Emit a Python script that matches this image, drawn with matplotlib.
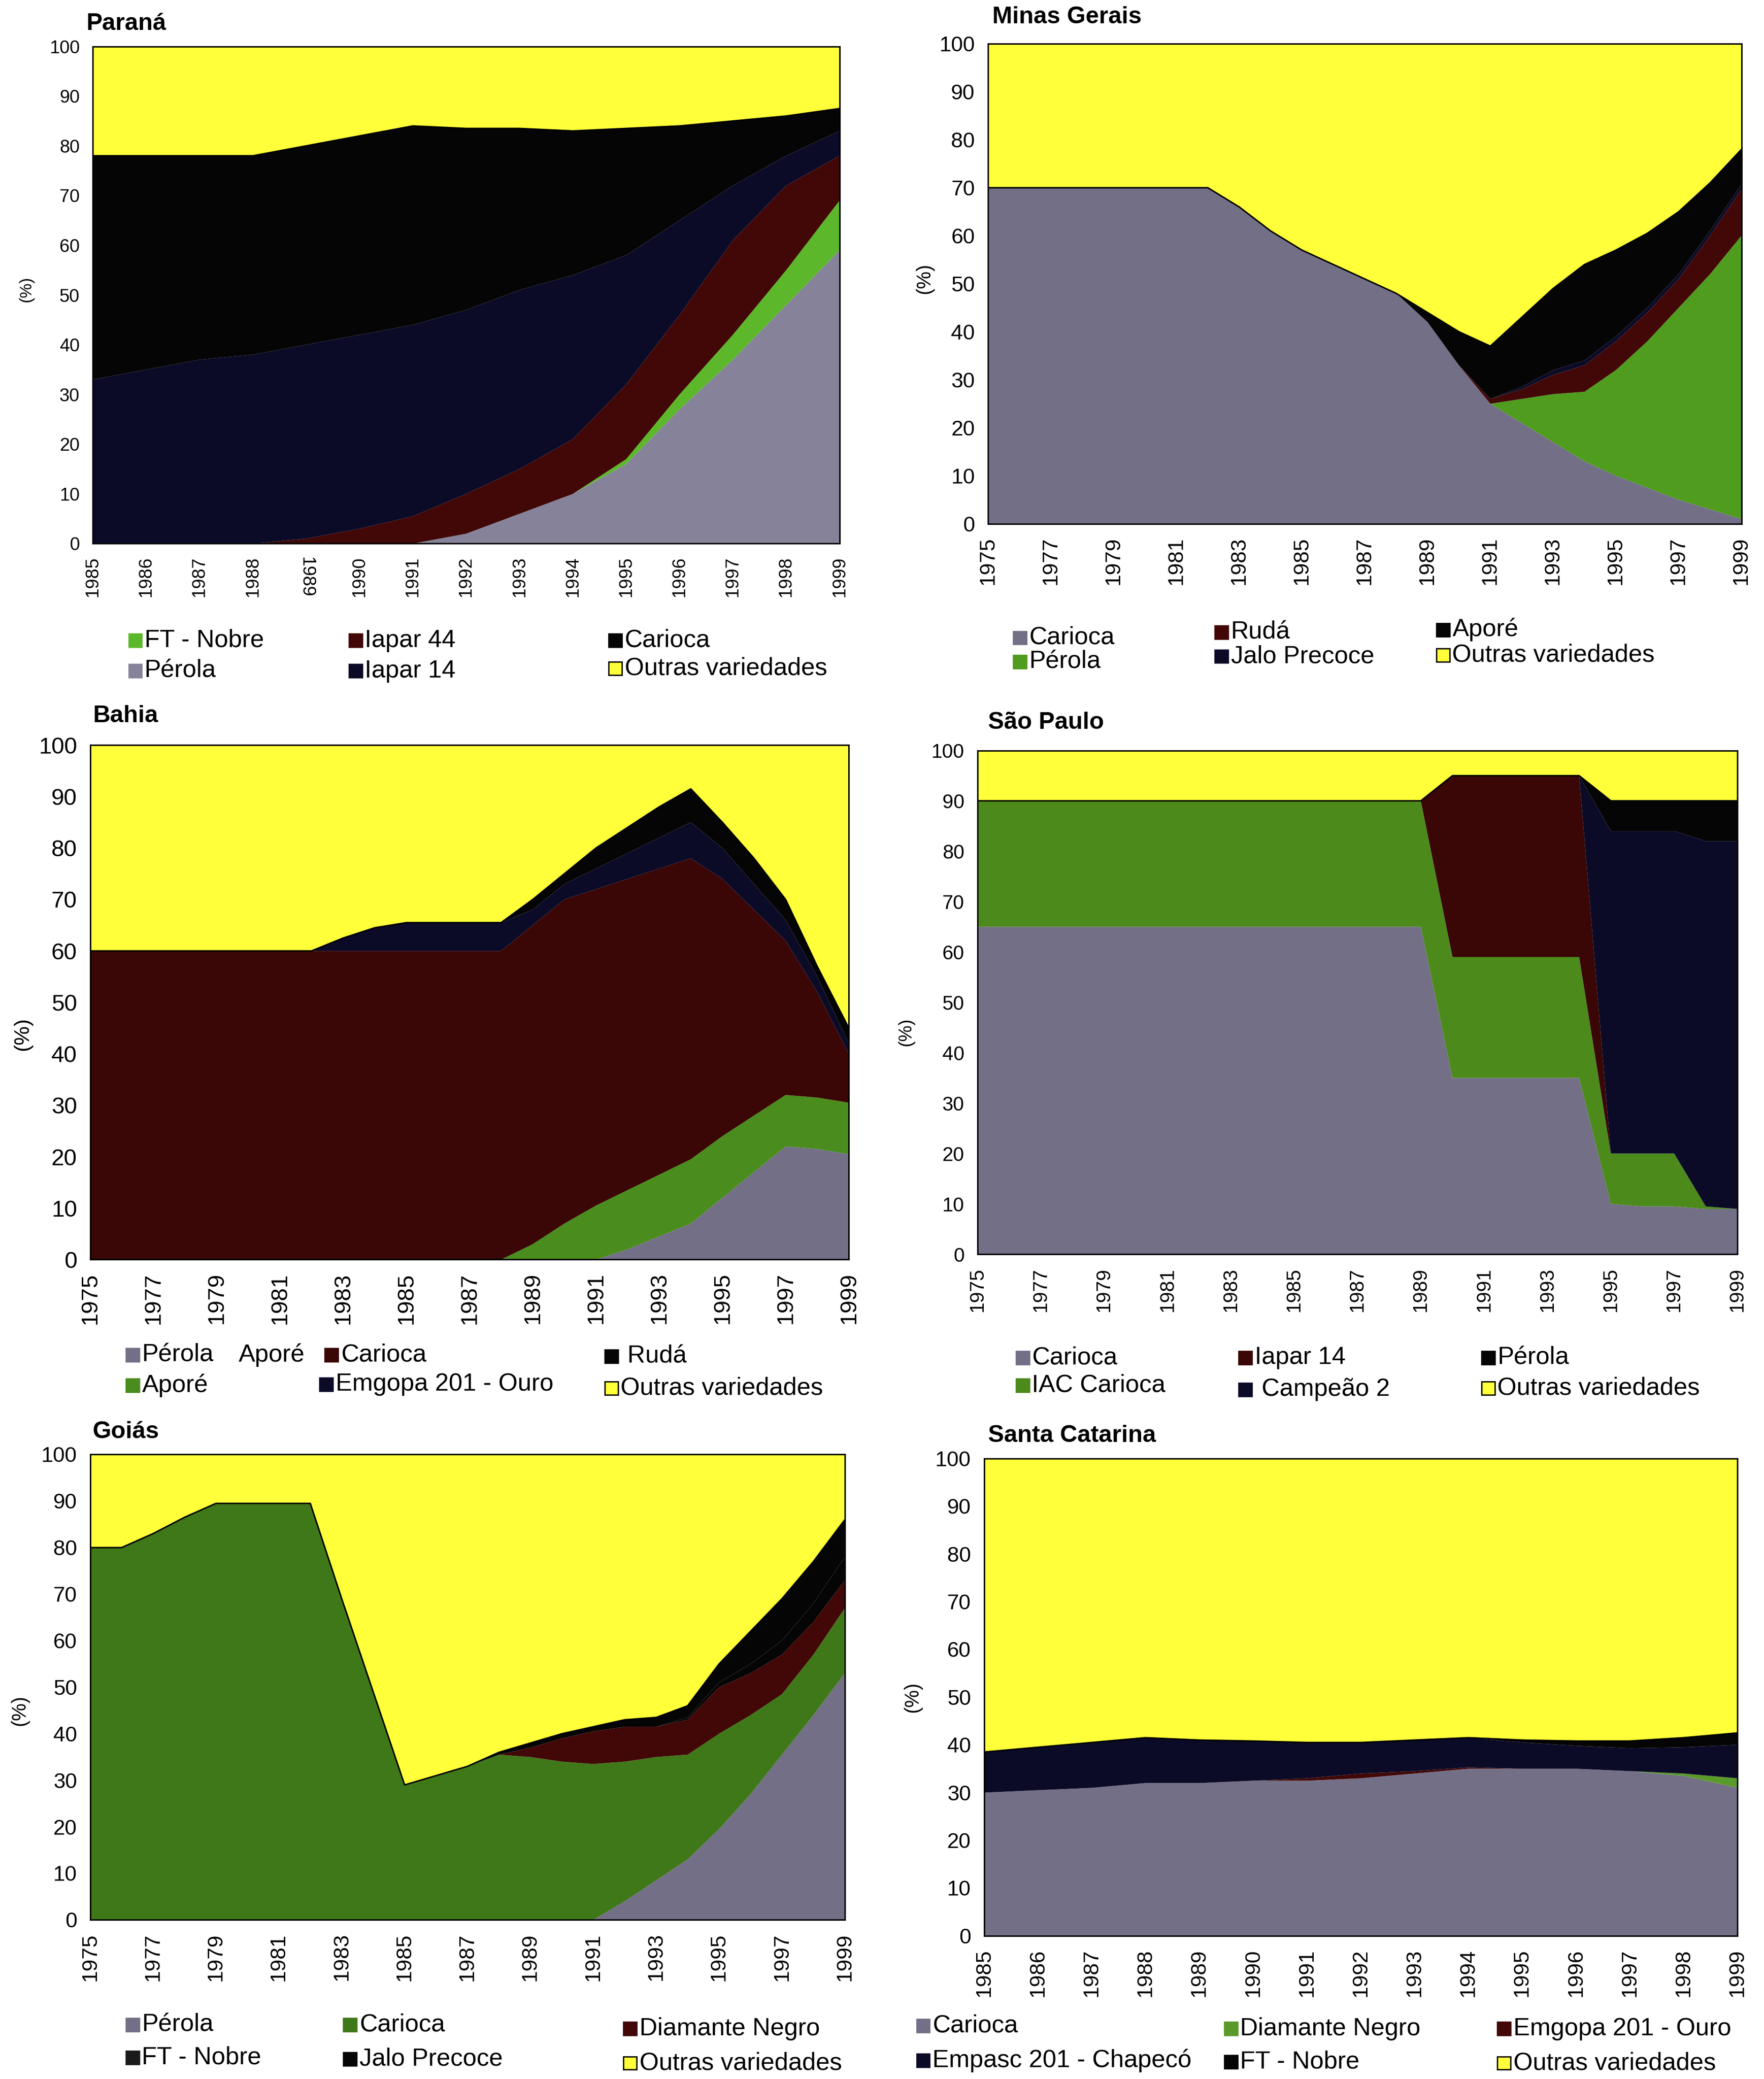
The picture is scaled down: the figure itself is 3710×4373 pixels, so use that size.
"""Six stacked-area panels: share of bean cultivars by Brazilian state, 1975-1999."""
import matplotlib
matplotlib.use("Agg")
import matplotlib.pyplot as plt
from matplotlib.patches import Rectangle
import numpy as np

plt.rcParams["font.family"] = ["Liberation Sans", "DejaVu Sans"]

# ── data ────────────────────────────────────────────────────────────────
years_85 = list(range(1985, 2000))
years_75 = list(range(1975, 2000))

# Paraná (1985-1999)
pr_perola = [0, 0, 0, 0, 0, 0, 0, 2, 6, 10, 16, 27, 37, 48, 59]
pr_ftnobre = [0, 0, 0, 0, 0, 0, 0, 0, 0, 0, 1, 3, 5, 7, 10]
pr_iapar44 = [0, 0, 0, 0, 1, 3, 5.5, 8, 9, 11, 15, 16, 19, 17, 9]
pr_iapar14 = [33, 35, 37, 38, 39, 39, 38.5, 37, 36, 33, 26, 19, 11, 6, 5]
pr_carioca = [45, 43, 41, 40, 40, 40, 40, 36.5, 32.5, 29, 25.5, 19, 13, 8, 4.5]

# Minas Gerais (1975-1999)
mg_carioca = [70, 70, 70, 70, 70, 70, 70, 70, 66, 61, 57, 54, 51, 48, 42, 33,
              25, 21, 17, 13, 10, 7.5, 5, 3, 1]
mg_perola = [0] * 16 + [0, 5, 10, 14.5, 22, 30.5, 40, 49, 59]
mg_ruda = [0] * 16 + [1, 2, 4, 5.5, 6, 6, 6, 8, 9.7]
mg_jalo = [0] * 17 + [0.5, 1, 1, 1, 1, 1, 1, 1]
mg_apore = [0] * 13 + [0, 2, 7, 11, 14.5, 17, 20, 18, 15.5, 13, 10, 7.3]

# Bahia (1975-1999)
ba_perola = [0] * 17 + [2, 4.5, 7, 12, 17, 22, 21.5, 20.5]
ba_apore = [0] * 14 + [3, 7, 10.5, 11.5, 12, 12.5, 12, 11, 10, 10, 10]
ba_carioca = [60] * 14 + [62, 63, 61.5, 60.5, 59.5, 58.5, 50, 40, 30, 20.5, 9.5]
ba_emgopa = [0] * 8 + [2.5, 4.5, 5.5, 5.5, 5.5, 5.5, 3, 3, 4, 5, 6, 7, 6, 5, 4, 3, 2]
ba_ruda = [0] * 14 + [2, 2, 4, 5, 6, 6.5, 5, 5, 4, 2, 3]

# São Paulo (1975-1999)
sp_carioca = [65] * 15 + [35] * 5 + [10, 9.5, 9.5, 9, 9]
sp_iac = [25] * 15 + [24] * 5 + [10, 10.5, 10.5, 0.5, 0]
sp_iapar14 = [0] * 15 + [36] * 5 + [0] * 5
sp_campeao = [0] * 20 + [64, 64, 64, 72.5, 73]
sp_perola = [0] * 20 + [6, 6, 6, 8, 8]

# Goiás (1975-1999)
go_perola = [0] * 17 + [4, 8.5, 13, 19.5, 27, 35.5, 44, 53]
go_carioca = [80, 80, 83, 86.5, 89.5, 89.5, 89.5, 89.5, 69, 49, 29, 31, 33,
              35.5, 35, 34, 33.5, 30, 26.5, 22.5, 20.5, 17, 13, 13, 14]
go_diamante = [0] * 14 + [2, 5, 7, 7.5, 6.5, 7.5, 10, 9, 8.5, 7, 6]
go_ftnobre = [0] * 19 + [0.5, 1, 2, 3, 4, 5]
go_jalo = [0] * 13 + [0.5, 1, 1, 1, 1.5, 2, 2.5, 4, 7, 9, 9, 8]

# Santa Catarina (1985-1999)
sc_carioca = [30, 30.5, 31, 32, 32, 32.5, 32.5, 33, 34, 35, 35, 35, 34.5, 33.5, 31]
sc_diamante = [0] * 13 + [0.5, 2]
sc_emgopa = [0, 0, 0, 0, 0, 0, 0.5, 1, 0.5, 0.3, 0, 0, 0, 0, 0]
sc_empasc = [8.5, 9, 9.5, 9.5, 9, 8.3, 7.5, 6.5, 6.5, 6.2, 5.5, 4.8, 4.8, 5.5, 7]
sc_ftnobre = [0] * 10 + [0.5, 1, 1.5, 2, 2.5]

# ── colours ─────────────────────────────────────────────────────────────
GRAY = "#736f86"
RED = "#420707"
NAVY = "#0b0b28"
BLACK = "#050505"
YELLOW = "#ffff3a"

W, H = 3710, 4373
fig = plt.figure(figsize=(W / 250, H / 250), dpi=250)


def fx(x):
    return x / 1330


def fy(y):
    return 1 - y / 1568


def panel(box, title, title_xy, ylab_xy, years, series, colors, step, tick_fs,
          flip=None):
    l, t, r, b = box
    ax = fig.add_axes([fx(l), fy(b), fx(r) - fx(l), fy(t) - fy(b)])
    vals = [np.array(s, dtype=float) for s in series]
    rest = 100 - np.sum(vals, axis=0)
    ax.stackplot(years, *vals, rest, colors=colors + [YELLOW], linewidth=0)
    ax.plot(years, 100 - rest, color="black", lw=0.9)
    ax.set_xlim(years[0], years[-1])
    ax.set_ylim(0, 100)
    ax.set_yticks(range(0, 101, 10))
    ax.set_xticks(years[::step])
    ax.set_xticklabels([str(y) for y in years[::step]], rotation=90)
    ax.tick_params(length=0, labelsize=tick_fs, pad=8)
    if flip is not None:
        for lab in ax.get_xticklabels():
            if lab.get_text() == str(flip):
                lab.set_rotation(270)
    for s in ax.spines.values():
        s.set_linewidth(0.9)
    fig.text(fx(title_xy[0]), fy(title_xy[1]), title, fontsize=14.5,
             fontweight="bold", ha="left", va="center")
    fig.text(fx(ylab_xy[0]), fy(ylab_xy[1]), "(%)", fontsize=tick_fs - 1,
             rotation=90, ha="center", va="center")
    return ax


def legend(entries, fs=15):
    sq_w, sq_h = 10 / 1330, 10 / 1568
    for x, y, col, label in entries:
        if col is not None:
            fig.patches.append(Rectangle((fx(x) - sq_w / 2, fy(y) - sq_h / 2), sq_w, sq_h,
                                         transform=fig.transFigure, facecolor=col,
                                         edgecolor="black" if col == YELLOW else col,
                                         lw=0.8))
            fig.text(fx(x + 7), fy(y), label, fontsize=fs, ha="left", va="center")
        else:
            fig.text(fx(x), fy(y), label, fontsize=fs, ha="left", va="center")


# Paraná
panel((70, 35, 633, 410), "Paraná", (65, 18), (20, 218), years_85,
      [pr_perola, pr_ftnobre, pr_iapar44, pr_iapar14, pr_carioca],
      ["#85829a", "#5cb82a", RED, NAVY, BLACK], 1, 11, flip=1989)
legend([(102, 483, "#5cb82a", "FT - Nobre"), (102, 506, "#85829a", "Pérola"),
        (268, 483, RED, "Iapar 44"), (268, 506, NAVY, "Iapar 14"),
        (464, 483, BLACK, "Carioca"), (464, 504, YELLOW, "Outras variedades")])

# Minas Gerais
panel((745, 33, 1313, 395), "Minas Gerais", (748, 13), (697, 210), years_75,
      [mg_carioca, mg_perola, mg_ruda, mg_jalo, mg_apore],
      [GRAY, "#4f9c1f", RED, NAVY, BLACK], 2, 13)
legend([(769, 481, GRAY, "Carioca"), (769, 499, "#4f9c1f", "Pérola"),
        (921, 477, RED, "Rudá"), (921, 495, NAVY, "Jalo Precoce"),
        (1088, 475, BLACK, "Aporé"), (1088, 494, YELLOW, "Outras variedades")])

# Bahia
panel((68, 562, 640, 950), "Bahia", (70, 540), (17, 780), years_75,
      [ba_perola, ba_apore, ba_carioca, ba_emgopa, ba_ruda],
      [GRAY, "#4a8c1e", "#3a0606", NAVY, BLACK], 2, 14)
legend([(100, 1022, GRAY, "Pérola"), (180, 1022, None, "Aporé"),
        (250, 1022, "#3a0606", "Carioca"), (461, 1023, BLACK, " Rudá"),
        (100, 1045, "#4a8c1e", "Aporé"), (246, 1044, NAVY, "Emgopa 201 - Ouro"),
        (461, 1047, YELLOW, "Outras variedades")])

# São Paulo
panel((737, 566, 1310, 946), "São Paulo", (745, 545), (683, 778), years_75,
      [sp_carioca, sp_iac, sp_iapar14, sp_campeao, sp_perola],
      [GRAY, "#4c8a1c", "#3a0606", NAVY, BLACK], 2, 12)
legend([(771, 1024, GRAY, "Carioca"), (771, 1045, "#4c8a1c", "IAC Carioca"),
        (939, 1024, "#3a0606", "Iapar 14"), (939, 1048, NAVY, " Campeão 2"),
        (1122, 1024, BLACK, "Pérola"), (1122, 1047, YELLOW, "Outras variedades")])

# Goiás
panel((68, 1097, 637, 1448), "Goiás", (70, 1080), (15, 1290), years_75,
      [go_perola, go_carioca, go_diamante, go_ftnobre, go_jalo],
      [GRAY, "#3f7819", RED, BLACK, BLACK], 2, 13)
legend([(100, 1527, GRAY, "Pérola"), (100, 1552, "#1a1a1a", "FT - Nobre"),
        (264, 1527, "#3f7819", "Carioca"), (264, 1553, BLACK, "Jalo Precoce"),
        (475, 1530, RED, "Diamante Negro"), (475, 1556, YELLOW, "Outras variedades")])

# Santa Catarina
panel((742, 1100, 1310, 1460), "Santa Catarina", (745, 1083), (688, 1280), years_85,
      [sc_carioca, sc_diamante, sc_emgopa, sc_empasc, sc_ftnobre],
      [GRAY, "#5a9a2a", RED, NAVY, BLACK], 1, 13)
legend([(696, 1528, GRAY, "Carioca"), (696, 1554, NAVY, "Empasc 201 - Chapecó"),
        (928, 1530, "#5a9a2a", "Diamante Negro"), (928, 1555, BLACK, "FT - Nobre"),
        (1134, 1530, RED, "Emgopa 201 - Ouro"), (1134, 1556, YELLOW, "Outras variedades")])

fig.savefig("out.png", dpi=250, facecolor="white")
